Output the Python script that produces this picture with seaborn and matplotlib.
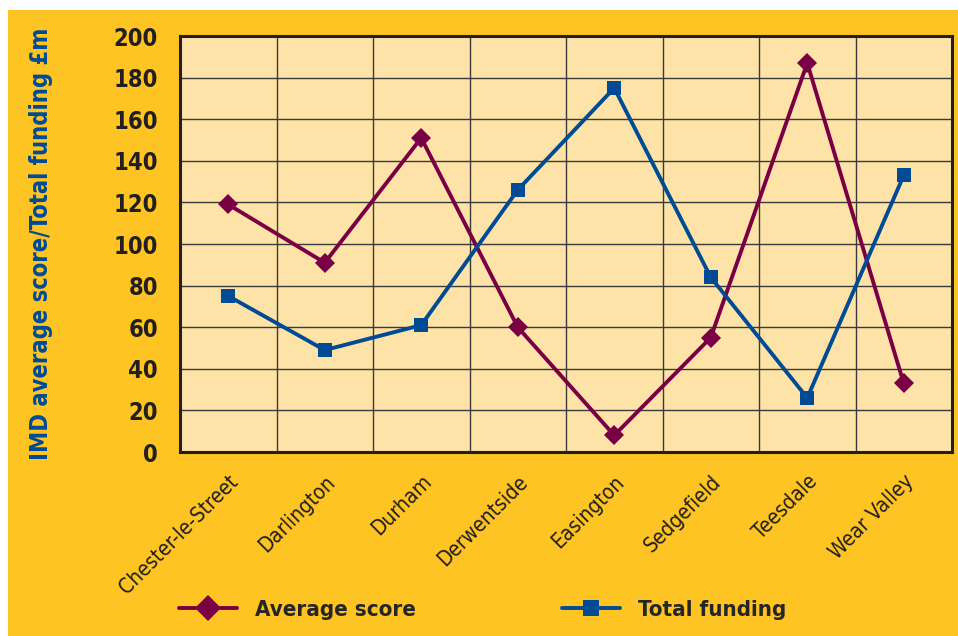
import pandas as pd
import numpy as np
import matplotlib.pyplot as plt
import seaborn as sns
from matplotlib.patches import Rectangle

districts = ["Chester-le-Street", "Darlington", "Durham", "Derwentside",
             "Easington", "Sedgefield", "Teesdale", "Wear Valley"]
average_score = [119, 91, 151, 60, 8, 55, 187, 33]
total_funding = [75, 49, 61, 126, 175, 84, 26, 133]

df = pd.DataFrame({
    "district": districts * 2,
    "value": average_score + total_funding,
    "series": ["Average score"] * len(districts) + ["Total funding"] * len(districts),
})

sns.set_style("white")
plt.rcParams["font.family"] = ["DejaVu Sans"]
plt.rcParams["font.stretch"] = "condensed"

yellow = "#FDC423"
plot_bg = "#FDE3A7"
colors = {"Average score": "#7A0046", "Total funding": "#004B93"}

fig = plt.figure(figsize=(9.58, 6.36), dpi=100)
fig.patch.set_facecolor("white")
fig.patches.append(Rectangle((8 / 958, 0), 1, 1 - 10 / 636, transform=fig.transFigure,
                             facecolor=yellow, edgecolor="none", zorder=-10))

ax = fig.add_axes([180 / 958, 1 - 452 / 636, 772 / 958, 416 / 636])
ax.set_facecolor(plot_bg)

sns.lineplot(data=df, x="district", y="value", hue="series", style="series",
             markers={"Average score": "D", "Total funding": "s"}, dashes=False,
             palette=colors, linewidth=2.8, markersize=10, markeredgewidth=0,
             ax=ax, legend=False, zorder=5)

ax.set_xlim(-0.5, 7.5)
ax.set_ylim(0, 200)
ax.set_yticks(np.arange(0, 201, 20))
ax.set_xticks(np.arange(-0.5, 8, 1), minor=False)
ax.set_xticklabels([])
ax.set_xticks(np.arange(len(districts)), minor=True)
ax.set_xticklabels(districts, minor=True, rotation=45, ha="right", rotation_mode="anchor",
                   fontsize=15, color="#231F20")
ax.tick_params(axis="x", which="both", length=0)
ax.tick_params(axis="x", which="minor", pad=14)
ax.tick_params(axis="y", length=0, pad=16, labelsize=17)
for lab in ax.get_yticklabels():
    lab.set_fontweight("bold")
    lab.set_color("#231F20")

ax.grid(True, which="major", color="#3a3a3a", linewidth=1.0)
ax.set_axisbelow(True)
for s in ax.spines.values():
    s.set_color("#231F20")
    s.set_linewidth(2.2)

ax.set_xlabel("")
ax.set_ylabel("IMD average score/Total funding £m", color="#004B93", fontsize=17,
              fontweight="bold", labelpad=0)
ax.yaxis.set_label_coords(-127 / 772, 0.5)

handles = [plt.Line2D([], [], color=colors["Average score"], marker="D", markersize=13,
                      linewidth=2.8, markeredgewidth=0),
           plt.Line2D([], [], color=colors["Total funding"], marker="s", markersize=11,
                      linewidth=2.8, markeredgewidth=0)]
fig.legend(handles, ["Average score", "Total funding"], loc="center left",
           bbox_to_anchor=(159 / 958, 1 - 610 / 636), ncol=2, frameon=False,
           prop={"weight": "bold", "size": 16}, handlelength=2.6, columnspacing=6.6,
           handletextpad=0.8)

fig.savefig("out.png", dpi=100, facecolor=fig.get_facecolor())
